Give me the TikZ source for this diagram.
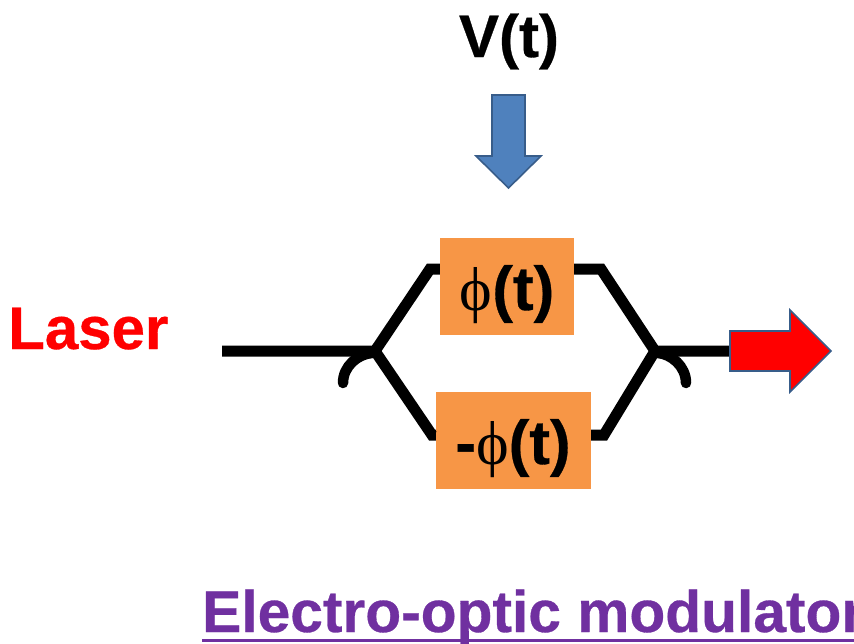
\documentclass[tikz,border=0pt]{standalone}
\usepackage{fontspec}
\setmainfont{Liberation Sans}[BoldFeatures={FakeBold=0.5}]
\newfontfamily\phifont{Liberation Serif}
\definecolor{boxorange}{RGB}{247,150,70}
\definecolor{arrowblue}{RGB}{79,129,189}
\definecolor{arrowedge}{RGB}{56,93,138}
\definecolor{titlepurple}{RGB}{112,48,160}
\tikzset{
  px/.style={x=1pt,y=-1pt},
  guide/.style={line width=11pt,line join=miter,black},
  hook/.style={line width=10.5pt,line cap=round,black},
  phasebox/.style={fill=boxorange,draw=none,inner sep=0pt},
  phasetext/.style={inner sep=0pt,anchor=base,font=\fontsize{62pt}{62pt}\selectfont\bfseries,text=black},
  big/.style={inner sep=0pt,font=\fontsize{60pt}{60pt}\selectfont\bfseries,anchor=base},
  titletext/.style={inner sep=0pt,font=\fontsize{58.7pt}{60pt}\selectfont\bfseries,anchor=base west,text=titlepurple},
  blockarrow/.style={line width=1.6pt,draw=arrowedge,line join=miter}
}
\newcommand{\phisym}{{\phifont\mdseries ϕ}}
\begin{document}
\begin{tikzpicture}[px]
\useasboundingbox (0,0) rectangle (854,643);
\clip (0,0) rectangle (854,643);
\coordinate (in) at (222,351);
\coordinate (split) at (375,351);
\coordinate (join) at (655,351);
\coordinate (hookL) at (343,383);
\coordinate (hookR) at (686,383);
\coordinate (ul) at (430,269);
\coordinate (ur) at (601,269);
\coordinate (ll) at (432,435);
\coordinate (lr) at (604,435);
\node[phasebox,minimum width=134pt,minimum height=97pt] (top) at (507,286.5) {};
\node[phasebox,minimum width=155pt,minimum height=97pt] (bot) at (513.5,440.5) {};
\node[phasetext] (toplabel) at (507,310) {\phisym(t)};
\node[phasetext] (botlabel) at (513,464) {-\phisym(t)};
\coordinate (out) at (735,351);
\draw[guide] (in) -- (split) -- (ul) -- (top.west |- ul);
\draw[guide] (split) -- (ll) -- (bot.west |- ll);
\draw[guide] (top.east |- ur) -- (ur) -- (join) -- (out);
\draw[guide] (bot.east |- lr) -- (lr) -- (join);
\draw[hook] (split) ++(-3,2) .. controls (358,354) and (343,366) .. (hookL);
\draw[hook] (join) ++(3,2) .. controls (671,354) and (686,366) .. (hookR);
\node[big] (vt) at (509,57) {V(t)};
\node[big,text=red,anchor=base west] (laser) at (8,349) {Laser};
\node[titletext] (title) at (202,632) {Electro-optic modulator};
\draw[titlepurple,line width=3pt] (202,640.5) -- (854,640.5);
\draw[blockarrow,fill=arrowblue] (492,95) -- (525,95) -- (525,156) -- (541,156) -- (508.5,188) -- (476,156) -- (492,156) -- cycle;
\draw[blockarrow,fill=red] (730,331) -- (790,331) -- (790,310) -- (831,351) -- (790,392) -- (790,371) -- (730,371) -- cycle;
\end{tikzpicture}
\end{document}
